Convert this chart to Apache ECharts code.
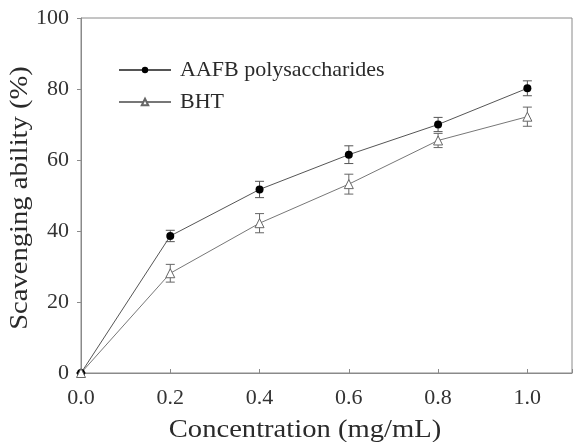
<!DOCTYPE html>
<html>
<head>
<meta charset="utf-8">
<script src="https://cdn.jsdelivr.net/npm/echarts@6/dist/echarts.min.js"></script>
<style>html,body{margin:0;padding:0;background:#fff;}#c{width:575px;height:442px;}</style>
</head>
<body>
<div id="c"></div>
<script>
var concentration = [0.0, 0.2, 0.4, 0.6, 0.8, 1.0];
var aafb = [0, 38.6, 51.7, 61.5, 70.0, 80.2];
var aafbErr = [0, 1.6, 2.3, 2.5, 2.0, 2.1];
var bht = [0, 28.1, 42.2, 53.2, 65.5, 72.2];
var bhtErr = [0, 2.5, 2.7, 2.8, 2.0, 2.7];
var yTicks = [0, 20, 40, 60, 80, 100];

var FONT = '"Liberation Serif", "DejaVu Serif", serif';

function pairs(xs, ys) { return xs.map(function (x, i) { return [x, ys[i]]; }); }
function errData(xs, ys, es) { return xs.map(function (x, i) { return [x, ys[i] - es[i], ys[i] + es[i]]; }); }

function errRender(color) {
  return function (params, api) {
    var x = api.value(0);
    var lo = api.coord([x, api.value(1)]);
    var hi = api.coord([x, api.value(2)]);
    var hw = 4.5;
    var st = { stroke: color, lineWidth: 1 };
    return {
      type: 'group',
      children: [
        { type: 'line', shape: { x1: lo[0], y1: lo[1], x2: hi[0], y2: hi[1] }, style: st },
        { type: 'line', shape: { x1: lo[0] - hw, y1: lo[1], x2: lo[0] + hw, y2: lo[1] }, style: st },
        { type: 'line', shape: { x1: hi[0] - hw, y1: hi[1], x2: hi[0] + hw, y2: hi[1] }, style: st }
      ]
    };
  };
}

var chart = echarts.init(document.getElementById('c'), null, { renderer: 'canvas' });
chart.setOption({
  animation: false,
  backgroundColor: '#fff',
  grid: { left: 81, right: 3, top: 18, bottom: 69, show: true, borderColor: '#8a8a8a', borderWidth: 1 },
  legend: {
    left: 113, top: 54, orient: 'vertical',
    itemWidth: 52, itemHeight: 8, itemGap: 10,
    textStyle: { fontFamily: FONT, fontSize: 22, color: '#2a2a2a', padding: [0, 0, 0, 4] },
    data: ['AAFB polysaccharides', 'BHT']
  },
  xAxis: {
    type: 'value', min: 0, max: 1.1, interval: 0.2,
    axisLine: { show: true, lineStyle: { color: '#8a8a8a' } },
    axisTick: { show: true, inside: true, length: 4, lineStyle: { color: '#8a8a8a' } },
    splitLine: { show: false },
    axisLabel: {
      fontFamily: FONT, fontSize: 22, color: '#333', margin: 14,
      formatter: function (v) { return v > 1.05 ? '' : v.toFixed(1); }
    }
  },
  yAxis: {
    type: 'value', min: yTicks[0], max: yTicks[yTicks.length - 1], interval: 20,
    axisLine: { show: true, lineStyle: { color: '#8a8a8a' } },
    axisTick: { show: true, inside: false, length: 4, lineStyle: { color: '#8a8a8a' } },
    splitLine: { show: false },
    axisLabel: { fontFamily: FONT, fontSize: 22, color: '#333', margin: 12 }
  },
  graphic: [
    { type: 'text', x: 305, y: 430, scaleX: 1.1, style: { text: 'Concentration (mg/mL)', textAlign: 'center', textVerticalAlign: 'middle', font: '26px ' + FONT, fill: '#2a2a2a' } },
    { type: 'text', x: 20, y: 198, rotation: Math.PI / 2, scaleX: 1.1, style: { text: 'Scavenging ability (%)', textAlign: 'center', textVerticalAlign: 'middle', font: '26px ' + FONT, fill: '#2a2a2a' } }
  ],
  series: [
    {
      name: 'AAFB polysaccharides', type: 'line', data: pairs(concentration, aafb),
      symbol: 'circle', symbolSize: 8, z: 5,
      lineStyle: { color: '#555', width: 1 },
      itemStyle: { color: '#000', borderColor: '#000', borderWidth: 0 }
    },
    {
      name: 'BHT', type: 'line', data: pairs(concentration, bht),
      symbol: 'triangle', symbolSize: 9, z: 5,
      lineStyle: { color: '#777', width: 1 },
      itemStyle: { color: '#fff', borderColor: '#666', borderWidth: 1 }
    },
    { type: 'custom', renderItem: errRender('#555'), data: errData(concentration, aafb, aafbErr), z: 4, silent: true },
    { type: 'custom', renderItem: errRender('#666'), data: errData(concentration, bht, bhtErr), z: 4, silent: true }
  ]
});
</script>
</body>
</html>
